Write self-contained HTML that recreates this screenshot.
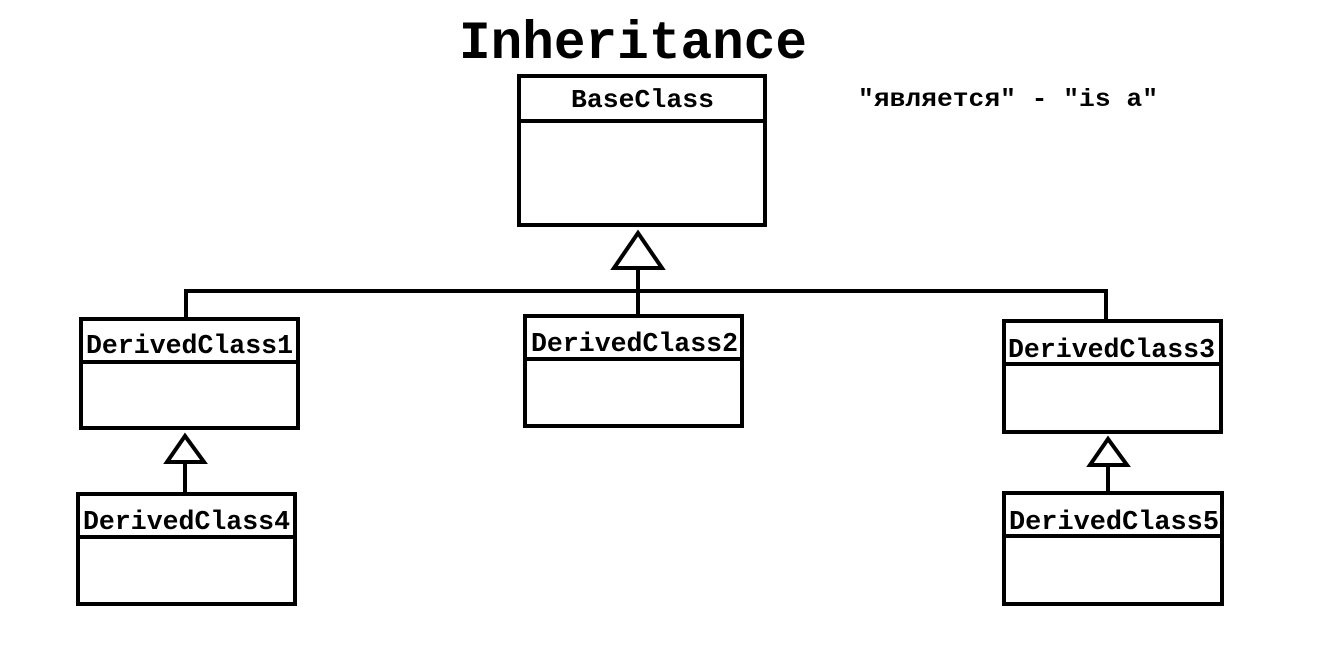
<!DOCTYPE html>
<html><head><meta charset="utf-8"><style>
html,body{margin:0;padding:0;background:#fff;}
svg{display:block;}
text{font-family:"Liberation Mono","DejaVu Sans Mono",monospace;font-weight:bold;fill:#000;}
</style></head><body>
<svg width="1318" height="669" viewBox="0 0 1318 669" xmlns="http://www.w3.org/2000/svg">
<g fill="none" stroke="#000" stroke-width="4">
<rect x="519" y="76" width="246" height="149"/><line x1="519" y1="121" x2="765" y2="121"/>
<polygon points="638,233 614,268 662,268" stroke-linejoin="miter"/>
<line x1="638" y1="268" x2="638" y2="317"/>
<polyline points="186,318 186,291 1106,291 1106,320"/>
<rect x="81" y="319" width="217" height="109"/><line x1="81" y1="362" x2="298" y2="362"/>
<polygon points="185,436 167,462 204,462"/><line x1="185" y1="462" x2="185" y2="493"/>
<rect x="78" y="494" width="217" height="110"/><line x1="78" y1="537" x2="295" y2="537"/>
<rect x="525" y="316" width="217" height="110"/><line x1="525" y1="359" x2="742" y2="359"/>
<rect x="1004" y="321" width="217" height="111"/><line x1="1004" y1="364" x2="1221" y2="364"/>
<polygon points="1108,439 1090,465 1127,465"/><line x1="1108" y1="465" x2="1108" y2="492"/>
<rect x="1004" y="493" width="218" height="111"/><line x1="1004" y1="536" x2="1222" y2="536"/>
</g>
<text x="459" y="58" font-size="54" textLength="348" lengthAdjust="spacingAndGlyphs">Inheritance</text>
<text x="571" y="107" font-size="26" textLength="143" lengthAdjust="spacingAndGlyphs">BaseClass</text>
<text x="858" y="106" font-size="25" textLength="300" lengthAdjust="spacingAndGlyphs">"является" - "is a"</text>
<text x="86" y="353" font-size="27" textLength="207" lengthAdjust="spacingAndGlyphs">DerivedClass1</text>
<text x="531" y="351" font-size="27" textLength="207" lengthAdjust="spacingAndGlyphs">DerivedClass2</text>
<text x="1008" y="357" font-size="27" textLength="207" lengthAdjust="spacingAndGlyphs">DerivedClass3</text>
<text x="83" y="529" font-size="27" textLength="207" lengthAdjust="spacingAndGlyphs">DerivedClass4</text>
<text x="1009" y="529" font-size="27" textLength="210" lengthAdjust="spacingAndGlyphs">DerivedClass5</text>
</svg>
</body></html>
